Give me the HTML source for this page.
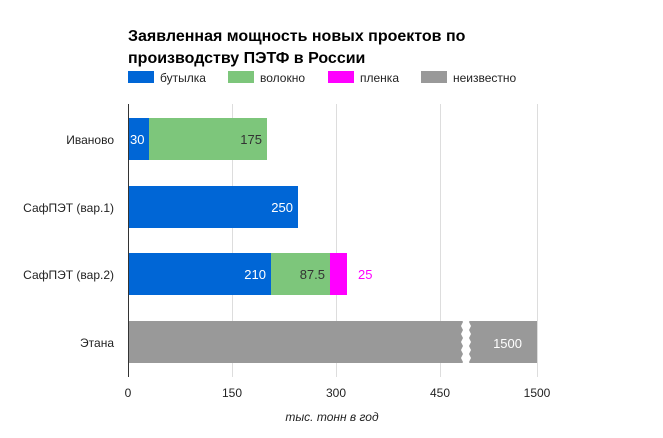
<!DOCTYPE html>
<html><head><meta charset="utf-8"><style>
body{margin:0;background:#fff;}
svg{display:block;font-family:"Liberation Sans",Arial,sans-serif;}
</style></head><body>
<svg width="663" height="438" viewBox="0 0 663 438">
<rect width="663" height="438" fill="#fff"/>
<text x="128" y="41" font-size="16" font-weight="bold" fill="#000">Заявленная мощность новых проектов по</text>
<text x="128" y="63" font-size="16" font-weight="bold" fill="#000">производству ПЭТФ в России</text>
<rect x="128" y="71" width="26" height="12" fill="#0066d6"/><text x="160" y="82" font-size="12" fill="#222">бутылка</text>
<rect x="228" y="71" width="26" height="12" fill="#7dc67b"/><text x="260" y="82" font-size="12" fill="#222">волокно</text>
<rect x="328" y="71" width="26" height="12" fill="#ff00ff"/><text x="360" y="82" font-size="12" fill="#222">пленка</text>
<rect x="421" y="71" width="26" height="12" fill="#999"/><text x="453" y="82" font-size="12" fill="#222">неизвестно</text>
<g stroke="#ddd" stroke-width="1">
<line x1="232.5" y1="104" x2="232.5" y2="377"/>
<line x1="336.5" y1="104" x2="336.5" y2="377"/>
<line x1="440.5" y1="104" x2="440.5" y2="377"/>
<line x1="537.5" y1="104" x2="537.5" y2="377"/>
</g>
<rect x="128" y="118" width="21" height="42" fill="#0066d6"/>
<rect x="149" y="118" width="118" height="42" fill="#7dc67b"/>
<rect x="128" y="186" width="170" height="42" fill="#0066d6"/>
<rect x="128" y="253" width="143" height="42" fill="#0066d6"/>
<rect x="271" y="253" width="59" height="42" fill="#7dc67b"/>
<rect x="330" y="253" width="17" height="42" fill="#ff00ff"/>
<rect x="128" y="321" width="409" height="42" fill="#999"/>
<polygon points="461,318 463,322 461,326 463,330 461,334 463,338 461,342 463,346 461,350 463,354 461,358 463,362 461,366 471,366 469,362 471,358 469,354 471,350 469,346 471,342 469,338 471,334 469,330 471,326 469,322 471,318" fill="#fff"/>
<line x1="128.5" y1="104" x2="128.5" y2="377" stroke="#333"/>
<g font-size="13">
<text x="130" y="144" fill="#fff">30</text>
<text x="262" y="144" fill="#333" text-anchor="end">175</text>
<text x="293" y="212" fill="#fff" text-anchor="end">250</text>
<text x="266" y="279" fill="#fff" text-anchor="end">210</text>
<text x="325" y="279" fill="#333" text-anchor="end">87.5</text>
<text x="358" y="279" fill="#ff00ff">25</text>
<text x="522" y="348" fill="#fff" text-anchor="end">1500</text>
</g>
<g font-size="12">
<text x="114" y="144" fill="#222" text-anchor="end">Иваново</text>
<text x="114" y="212" fill="#222" text-anchor="end">СафПЭТ (вар.1)</text>
<text x="114" y="279" fill="#222" text-anchor="end">СафПЭТ (вар.2)</text>
<text x="114" y="347" fill="#222" text-anchor="end">Этана</text>
<text x="128" y="397" fill="#222" text-anchor="middle">0</text>
<text x="232" y="397" fill="#222" text-anchor="middle">150</text>
<text x="336" y="397" fill="#222" text-anchor="middle">300</text>
<text x="440" y="397" fill="#222" text-anchor="middle">450</text>
<text x="537" y="397" fill="#222" text-anchor="middle">1500</text>
<text x="332" y="421" fill="#222" text-anchor="middle" font-style="italic">тыс. тонн в год</text>
</g>
</svg>
</body></html>
